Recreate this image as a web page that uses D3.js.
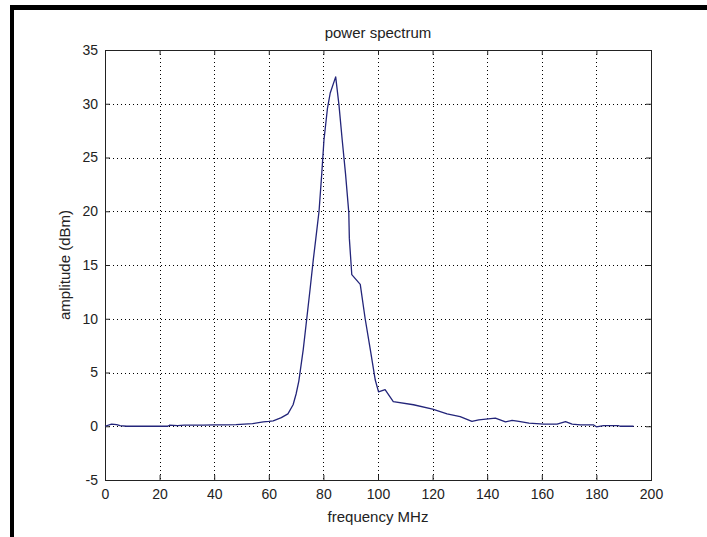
<!DOCTYPE html>
<html>
<head>
<meta charset="utf-8">
<script src="https://cdn.jsdelivr.net/npm/d3@7"></script>
<style>
  html, body { margin: 0; padding: 0; background: #fff; }
  svg { display: block; }
  text { font-family: "Liberation Sans", Arial, Helvetica, sans-serif; }
</style>
</head>
<body>
<svg id="chart" width="707" height="537"></svg>
<script>
// ---- data ----
const freq = [0, 2.4, 4.3, 5.5, 7.9, 12, 16, 20, 23, 23.6, 26.6, 29, 32, 36, 40, 44, 48, 54, 58, 60, 61.6, 64.6, 67, 68.9, 70, 71, 72.6, 73.9, 75.1, 76.3, 77.2, 78.4, 79.4, 80.2, 81.5, 82.5, 84.5, 85.7, 86.9, 88.1, 89.3, 89.5, 90.4, 93.5, 95.3, 97.2, 99.0, 100.2, 102.6, 105.6, 113, 120, 125.3, 130.1, 134.4, 136.9, 143, 146.7, 149.1, 151.6, 155.3, 160.8, 165.6, 168.7, 171.1, 174.2, 179, 180, 182.6, 188, 188.7, 193.6];
const amp  = [0, 0.2, 0.15, 0.06, 0, 0, 0, 0, 0, 0.1, 0.06, 0.1, 0.1, 0.11, 0.12, 0.13, 0.15, 0.25, 0.4, 0.45, 0.5, 0.8, 1.15, 2.0, 3.0, 4.2, 7.1, 10, 12.7, 15.5, 17.4, 20, 23.5, 26.6, 29.6, 31.0, 32.5, 29.9, 26.6, 23.5, 19.9, 17.5, 14.1, 13.2, 10, 7.1, 4.3, 3.2, 3.4, 2.3, 2.0, 1.6, 1.15, 0.9, 0.45, 0.6, 0.75, 0.4, 0.55, 0.45, 0.3, 0.2, 0.2, 0.42, 0.2, 0.12, 0.12, -0.05, 0.06, 0.06, 0, 0];
const xTicks = [0, 20, 40, 60, 80, 100, 120, 140, 160, 180, 200];
const yTicks = [-5, 0, 5, 10, 15, 20, 25, 30, 35];
const titleText = "power spectrum";
const xLabelText = "frequency MHz";
const yLabelText = "amplitude (dBm)";

// ---- layout ----
const svg = d3.select("#chart");
const L = 105, R = 651, T = 50, B = 480;
const x = d3.scaleLinear().domain([0, 200]).range([L, R]);
const y = d3.scaleLinear().domain([-5, 35]).range([B, T]);

// black frame strips
svg.append("rect").attr("x", 10).attr("y", 5).attr("width", 697).attr("height", 5).attr("fill", "#000");
svg.append("rect").attr("x", 10).attr("y", 5).attr("width", 4).attr("height", 532).attr("fill", "#000");

// grid
const grid = svg.append("g").attr("stroke", "#000").attr("stroke-width", 1).attr("stroke-dasharray", "1,3");
grid.selectAll("line.gx").data(xTicks.slice(1, -1)).enter().append("line")
  .attr("x1", d => Math.round(x(d)) + 0.5).attr("x2", d => Math.round(x(d)) + 0.5)
  .attr("y1", T).attr("y2", B);
grid.selectAll("line.gy").data(yTicks.slice(1, -1)).enter().append("line")
  .attr("y1", d => Math.round(y(d)) + 0.5).attr("y2", d => Math.round(y(d)) + 0.5)
  .attr("x1", L).attr("x2", R);

// axes (ticks inward on all sides)
const tickLen = 5;
const fmt = d => String(d);
function styleAxis(g) {
  g.selectAll("path").attr("stroke", "#222");
  g.selectAll("line").attr("stroke", "#222");
  g.selectAll("text").attr("fill", "#222").style("font-size", "14px");
}
svg.append("g").attr("transform", `translate(0,${B})`)
  .call(d3.axisBottom(x).tickValues(xTicks).tickSizeInner(-tickLen).tickSizeOuter(0).tickPadding(9).tickFormat(fmt))
  .call(styleAxis);
svg.append("g").attr("transform", `translate(0,${T})`)
  .call(d3.axisTop(x).tickValues(xTicks).tickSizeInner(-tickLen).tickSizeOuter(0).tickFormat(""))
  .call(styleAxis);
svg.append("g").attr("transform", `translate(${L},0)`)
  .call(d3.axisLeft(y).tickValues(yTicks).tickSizeInner(-tickLen).tickSizeOuter(0).tickPadding(7).tickFormat(fmt))
  .call(styleAxis);
svg.append("g").attr("transform", `translate(${R},0)`)
  .call(d3.axisRight(y).tickValues(yTicks).tickSizeInner(-tickLen).tickSizeOuter(0).tickFormat(""))
  .call(styleAxis);
svg.selectAll(".domain").attr("shape-rendering", "crispEdges");

// line
const line = d3.line().x((d, i) => x(freq[i])).y(d => y(d));
svg.append("path").datum(amp)
  .attr("d", line)
  .attr("fill", "none")
  .attr("stroke", "#23257a")
  .attr("stroke-width", 1.3)
  .attr("stroke-linejoin", "round");

// texts
svg.append("text").attr("x", (L + R) / 2).attr("y", 38).attr("text-anchor", "middle")
  .style("font-size", "15px").attr("fill", "#222").text(titleText);
svg.append("text").attr("x", (L + R) / 2).attr("y", 522).attr("text-anchor", "middle")
  .style("font-size", "15px").attr("fill", "#222").text(xLabelText);
svg.append("text").attr("transform", `translate(70,${(T + B) / 2}) rotate(-90)`).attr("text-anchor", "middle")
  .style("font-size", "15px").attr("fill", "#222").text(yLabelText);
</script>
</body>
</html>
